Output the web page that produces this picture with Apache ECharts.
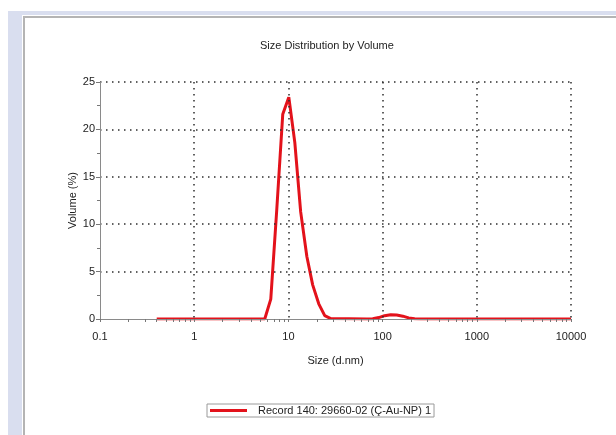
<!DOCTYPE html>
<html>
<head>
<meta charset="utf-8">
<script src="https://cdn.jsdelivr.net/npm/echarts@6/dist/echarts.min.js"></script>
<style>
    html, body { margin: 0; padding: 0; background: #fff; }
    #frame { position: absolute; left: 8px; top: 11px; width: 608px; height: 424px; background: #d9deef; }
    #panel { position: absolute; left: 22px; top: 15px; width: 594px; height: 420px; background: #fff; }
    #edge { position: absolute; left: 23px; top: 16px; width: 593px; height: 419px;
            border-left: 2px solid #b4b4b4; border-top: 2px solid #b4b4b4; box-sizing: border-box; }
    #container { position: absolute; left: 0; top: 0; width: 616px; height: 435px; }
</style>
</head>
<body>
<div id="frame"></div>
<div id="panel"></div>
<div id="edge"></div>
<div id="container"></div>
<script>
var sizes = [0.4, 5.61, 6.5, 7.52, 8.71, 10.1, 11.7, 13.5, 15.7, 18.1, 21.0, 24.3, 28.2,
    67.9, 78.6, 91, 105, 122, 141, 164, 189, 219, 254, 10000];
var volumes = [0, 0, 2.1, 11.5, 21.6, 23.4, 18.6, 11.3, 6.6, 3.6, 1.6, 0.35, 0.05,
    0, 0.02, 0.15, 0.35, 0.45, 0.42, 0.3, 0.12, 0.02, 0, 0];
var seriesName = 'Record 140: 29660-02 (Ç-Au-NP) 1';

var dom = document.getElementById("container");
var myChart = echarts.init(dom);

var points = sizes.map(function (s, i) {
    return [s, volumes[i]];
});

var gridDots = {
    show: true,
    showMinLine: false,
    lineStyle: {
        color: '#2e2e2e',
        type: [1.5, 4.5],
        width: 1.5
    }
};

var option = {
    animation: false,
    textStyle: {
        fontFamily: 'Liberation Sans'
    },
    title: {
        text: 'Size Distribution by Volume',
        left: 255,
        top: 35,
        textStyle: {
            fontSize: 11,
            fontWeight: 'normal',
            color: '#222'
        }
    },
    grid: {
        left: 100,
        top: 82,
        width: 471,
        height: 237
    },
    legend: {
        left: 207,
        top: 404,
        padding: [1, 3, 1, 3],
        borderColor: '#9a9a9a',
        borderWidth: 1,
        icon: 'rect',
        itemWidth: 37,
        itemHeight: 3,
        textStyle: {
            fontSize: 11,
            color: '#222',
            padding: [0, 0, 0, 6]
        },
        data: [seriesName]
    },
    xAxis: {
        type: 'log',
        logBase: 10,
        min: 0.1,
        max: 10000,
        z: 5,
        name: 'Size (d.nm)',
        nameLocation: 'middle',
        nameGap: 36,
        nameMoveOverlap: false,
        nameTextStyle: {
            fontSize: 11,
            color: '#222'
        },
        axisLine: {
            lineStyle: {
                color: '#8a8a8a'
            }
        },
        axisTick: {
            show: true,
            length: 3,
            lineStyle: {
                color: '#777'
            }
        },
        minorTick: {
            show: true,
            splitNumber: 9,
            length: 3,
            lineStyle: {
                color: '#777'
            }
        },
        axisLabel: {
            fontSize: 11,
            color: '#222',
            margin: 12,
            formatter: function (v) {
                return String(v);
            }
        },
        splitLine: gridDots
    },
    yAxis: {
        type: 'value',
        min: 0,
        max: 25,
        interval: 5,
        z: 5,
        name: 'Volume (%)',
        nameLocation: 'middle',
        nameGap: 22,
        nameMoveOverlap: false,
        nameTextStyle: {
            fontSize: 11,
            color: '#222'
        },
        axisLine: {
            show: true,
            lineStyle: {
                color: '#8a8a8a'
            }
        },
        axisTick: {
            show: true,
            length: 4,
            lineStyle: {
                color: '#777'
            }
        },
        minorTick: {
            show: true,
            splitNumber: 2,
            length: 3,
            lineStyle: {
                color: '#777'
            }
        },
        axisLabel: {
            fontSize: 11,
            color: '#222',
            margin: 5
        },
        splitLine: gridDots
    },
    series: [{
        name: seriesName,
        type: 'line',
        data: points,
        showSymbol: false,
        symbol: 'none',
        smooth: false,
        color: '#e3121b',
        lineStyle: {
            color: '#e3121b',
            width: 3
        }
    }]
};

myChart.setOption(option);
</script>
</body>
</html>
